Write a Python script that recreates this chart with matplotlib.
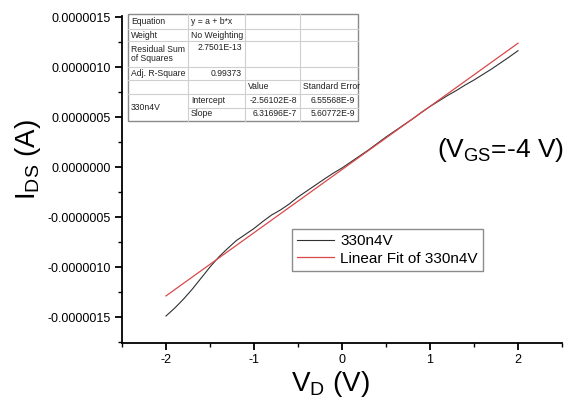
import numpy as np
import matplotlib
matplotlib.use("Agg")
import matplotlib.pyplot as plt
from matplotlib.ticker import MultipleLocator, FormatStrFormatter
from matplotlib.patches import Rectangle
from matplotlib.lines import Line2D

plt.rcParams["font.family"] = ["Liberation Sans", "DejaVu Sans"]
plt.rcParams["mathtext.fontset"] = "custom"
plt.rcParams["mathtext.rm"] = "Liberation Sans"
plt.rcParams["mathtext.it"] = "Liberation Sans:italic"
plt.rcParams["mathtext.bf"] = "Liberation Sans:bold"

# Measured drain sweep (V_D in volts, I_DS in amps)
vd = [-2.0, -1.9, -1.8, -1.7, -1.6, -1.5, -1.4, -1.3, -1.2, -1.1, -1.0,
      -0.9, -0.8, -0.7, -0.6, -0.5, -0.4, -0.3, -0.2, -0.1, 0.0,
      0.1, 0.2, 0.3, 0.4, 0.5, 0.6, 0.7, 0.8, 0.9, 1.0,
      1.1, 1.2, 1.3, 1.4, 1.5, 1.6, 1.7, 1.8, 1.9, 2.0]
ids = [-1.49e-6, -1.41e-6, -1.32e-6, -1.22e-6, -1.11e-6, -1.00e-6, -0.90e-6,
       -0.815e-6, -0.735e-6, -0.675e-6, -0.615e-6, -0.545e-6, -0.48e-6,
       -0.43e-6, -0.37e-6, -0.30e-6, -0.24e-6, -0.18e-6, -0.12e-6, -0.062e-6,
       -0.01e-6, 0.05e-6, 0.11e-6, 0.17e-6, 0.235e-6, 0.30e-6, 0.36e-6,
       0.42e-6, 0.48e-6, 0.545e-6, 0.605e-6, 0.66e-6, 0.715e-6, 0.765e-6,
       0.82e-6, 0.87e-6, 0.925e-6, 0.98e-6, 1.04e-6, 1.10e-6, 1.163e-6]

# Linear fit parameters
fit_intercept = -2.56102e-8
fit_slope = 6.31696e-7
fit_x = [-2.0, 2.0]

series_label = "330n4V"
fit_label = "Linear Fit of 330n4V"

# Fit report table
table_rows = [
    ["Equation", "y = a + b*x", "", ""],
    ["Weight", "No Weighting", "", ""],
    ["Residual Sum\nof Squares", "2.7501E-13", "", ""],
    ["Adj. R-Square", "0.99373", "", ""],
    ["", "", "Value", "Standard Error"],
    ["330n4V", "Intercept", "-2.56102E-8", "6.55568E-9"],
    ["", "Slope", "6.31696E-7", "5.60772E-9"],
]

W, H = 568, 403
fig = plt.figure(figsize=(W / 100, H / 100), dpi=100)


def fx(x):
    return x / W


def fy(y):
    return 1 - y / H


ax = fig.add_axes([fx(122), fy(343), (562 - 122) / W, (343 - 16) / H])

fit_y = [fit_intercept + fit_slope * x for x in fit_x]
ax.plot(vd, ids, color="#303030", lw=0.8, label=series_label)
ax.plot(fit_x, fit_y, color="#d9484a", lw=0.9, label=fit_label)

ax.set_xlim(-2.5, 2.5)
ax.set_ylim(-1.76e-6, 1.51e-6)
ax.xaxis.set_major_locator(MultipleLocator(1))
ax.xaxis.set_minor_locator(MultipleLocator(0.5))
ax.yaxis.set_major_locator(MultipleLocator(5e-7))
ax.yaxis.set_minor_locator(MultipleLocator(2.5e-7))
ax.yaxis.set_major_formatter(FormatStrFormatter("%.7f"))
ax.xaxis.set_major_formatter(FormatStrFormatter("%d"))
for s in ("top", "right"):
    ax.spines[s].set_visible(False)
for s in ("left", "bottom"):
    ax.spines[s].set_linewidth(1.3)
ax.tick_params(which="major", direction="out", length=5, width=1.3,
               labelsize=9, pad=3)
ax.tick_params(which="minor", direction="out", length=3, width=1.0)

fig.text(fx(330), fy(384), r"V$_\mathregular{D}$ (V)", fontsize=20,
         ha="center", va="center")
fig.text(fx(28), fy(160), r"I$_\mathregular{DS}$ (A)", fontsize=20,
         ha="center", va="center", rotation=90)
fig.text(fx(501), fy(150), r"(V$_\mathregular{GS}$=-4 V)", fontsize=19,
         ha="center", va="center")

leg = ax.legend(loc="upper left", bbox_to_anchor=(fx(292), fy(228.5)),
                bbox_transform=fig.transFigure, borderaxespad=0,
                fontsize=11, frameon=True, fancybox=False,
                edgecolor="#707070", handlelength=2.4, handletextpad=0.4,
                labelspacing=0.25, borderpad=0.35)
leg.get_frame().set_linewidth(1.0)

# Fit report table drawn in pixel layout
tx0, ty0 = 128, 14
col_w = [60, 57, 55, 58]
row_h = [15, 12, 26, 13, 13.5, 14, 13]
cx = np.concatenate([[tx0], tx0 + np.cumsum(col_w)])
ry = np.concatenate([[ty0], ty0 + np.cumsum(row_h)])

fig.patches.append(Rectangle((fx(cx[0]), fy(ry[-1])), (cx[-1] - cx[0]) / W,
                             (ry[-1] - ry[0]) / H, transform=fig.transFigure,
                             facecolor="white", edgecolor="#8a8a8a", lw=1.0,
                             zorder=5))
grid_c = "#cfcfcf"
for i in range(1, len(ry) - 1):
    start = cx[1] if i == 6 else cx[0]
    fig.lines.append(Line2D([fx(start), fx(cx[-1])], [fy(ry[i]), fy(ry[i])],
                            transform=fig.transFigure, color=grid_c, lw=0.8,
                            zorder=6))
for j in range(1, len(cx) - 1):
    fig.lines.append(Line2D([fx(cx[j]), fx(cx[j])], [fy(ry[0]), fy(ry[-1])],
                            transform=fig.transFigure, color=grid_c, lw=0.8,
                            zorder=6))

right_cells = {(2, 1), (3, 1), (5, 2), (6, 2), (5, 3), (6, 3)}
for r, row in enumerate(table_rows):
    for c, txt in enumerate(row):
        if not txt:
            continue
        if r == 5 and c == 0:
            ymid = ry[5] + (row_h[5] + row_h[6]) / 2
        elif r == 2 and c == 1:
            ymid = ry[2] + 7
        else:
            ymid = ry[r] + row_h[r] / 2
        if (r, c) in right_cells:
            x, ha = cx[c + 1] - 3, "right"
        else:
            x, ha = cx[c] + 3, "left"
        fig.text(fx(x), fy(ymid), txt, fontsize=6.2, ha=ha, va="center",
                 color="#202020", linespacing=1.0, zorder=7)

fig.savefig("out.png", dpi=100)
